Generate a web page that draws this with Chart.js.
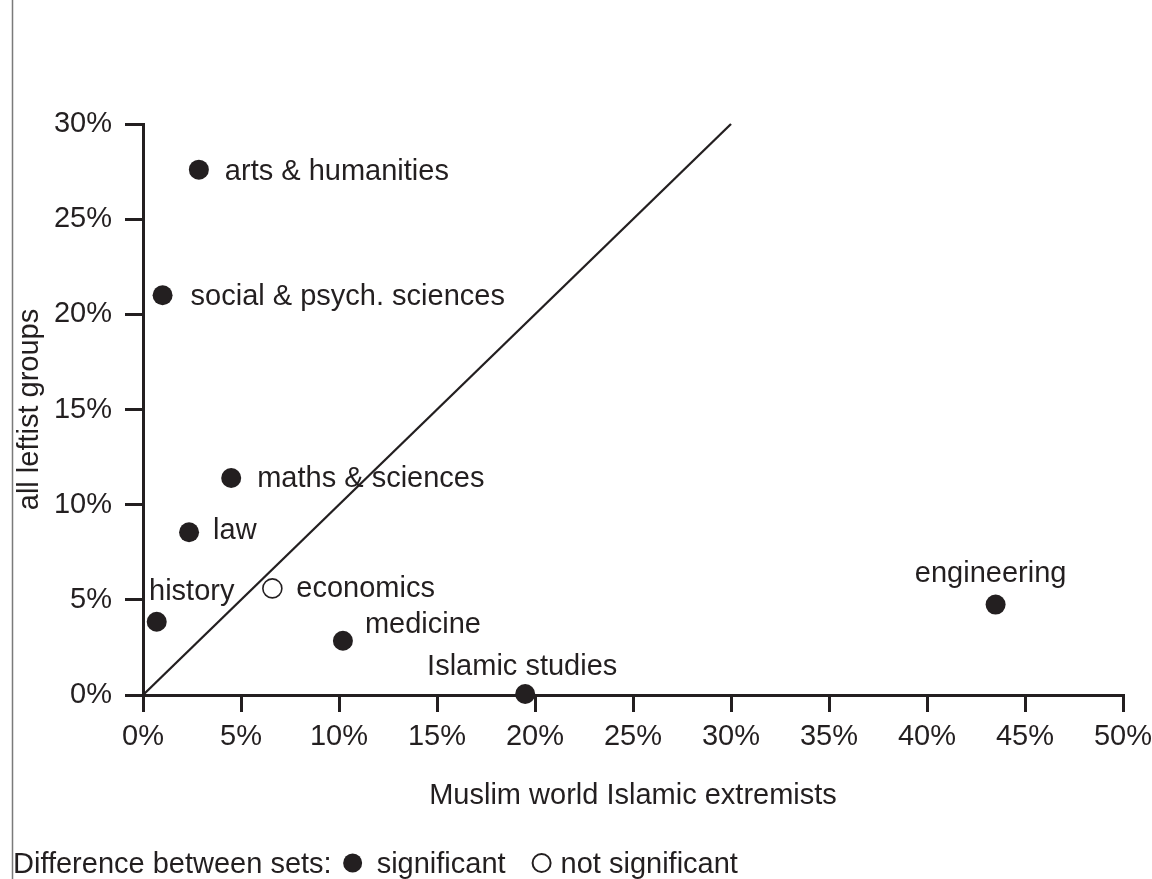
<!DOCTYPE html>
<html>
<head>
<meta charset="utf-8">
<script src="https://cdn.jsdelivr.net/npm/chart.js@4"></script>
<style>
  html, body { margin: 0; padding: 0; background: #fff; }
  #wrap { width: 1152px; height: 879px; }
</style>
</head>
<body>
<div id="wrap"><canvas id="chart" width="1152" height="879"></canvas></div>
<script>
// data (percent)
const subjects = ['arts & humanities', 'social & psych. sciences', 'maths & sciences', 'law', 'history',
                  'economics', 'medicine', 'Islamic studies', 'engineering'];
const islamistShare = [2.85, 1.0, 4.5, 2.35, 0.7, 6.6, 10.2, 19.5, 43.5];
const leftistShare = [27.6, 21.0, 11.4, 8.55, 3.85, 5.6, 2.85, 0.05, 4.75];
const significant = [true, true, true, true, true, false, true, true, true];
const diagonal = [0, 30];
const xTicks = [0, 5, 10, 15, 20, 25, 30, 35, 40, 45, 50];
const yTicks = [0, 5, 10, 15, 20, 25, 30];

const ink = '#231f20';
const fontFamily = '"Liberation Sans", Arial, Helvetica, sans-serif';
const fontSize = 29;

// where each name sits relative to its dot
const labelPlacement = {
    'arts & humanities':        { dx: 26, dy: 2,   align: 'left' },
    'social & psych. sciences': { dx: 28, dy: 2,   align: 'left' },
    'maths & sciences':         { dx: 26, dy: 1,   align: 'left' },
    'law':                      { dx: 24, dy: -1,  align: 'left' },
    'history':                  { dx: 35, dy: -30, align: 'center' },
    'economics':                { dx: 24, dy: 1,   align: 'left' },
    'medicine':                 { dx: 22, dy: -16, align: 'left' },
    'Islamic studies':          { dx: -3, dy: -27, align: 'center' },
    'engineering':              { dx: -5, dy: -31, align: 'center' }
};

function pick(flag) {
    const pts = [], names = [];
    subjects.forEach((s, i) => {
        if (significant[i] === flag) {
            pts.push({ x: islamistShare[i], y: leftistShare[i] });
            names.push(s);
        }
    });
    return { pts, names };
}
const sig = pick(true);
const notSig = pick(false);

Chart.defaults.color = ink;
Chart.defaults.font.family = fontFamily;
Chart.defaults.font.size = fontSize;

const pointLabels = {
    id: 'pointLabels',
    afterDatasetsDraw(chart) {
        const ctx = chart.ctx;
        ctx.save();
        ctx.font = fontSize + 'px ' + fontFamily;
        ctx.fillStyle = ink;
        ctx.textBaseline = 'middle';
        chart.data.datasets.forEach((ds, di) => {
            if (!ds.names) return;
            chart.getDatasetMeta(di).data.forEach((pt, i) => {
                const p = labelPlacement[ds.names[i]];
                ctx.textAlign = p.align;
                ctx.fillText(ds.names[i], pt.x + p.dx, pt.y + p.dy);
            });
        });
        ctx.restore();
    }
};

// page border on the left and the key at the bottom
const keyAndFrame = {
    id: 'keyAndFrame',
    afterDraw(chart) {
        const ctx = chart.ctx;
        ctx.save();
        ctx.strokeStyle = '#7a7a7a';
        ctx.lineWidth = 1.5;
        ctx.beginPath();
        ctx.moveTo(12.5, 0);
        ctx.lineTo(12.5, 879);
        ctx.stroke();

        ctx.font = fontSize + 'px ' + fontFamily;
        ctx.fillStyle = ink;
        ctx.textBaseline = 'alphabetic';
        ctx.textAlign = 'left';
        const base = 873, cy = 863;
        let x = 13;
        const lead = 'Difference between sets:';
        ctx.fillText(lead, x, base);
        x += ctx.measureText(lead).width + 21;
        ctx.beginPath();
        ctx.arc(x, cy, 9.5, 0, Math.PI * 2);
        ctx.fill();
        x += 24;
        ctx.fillText('significant', x, base);
        x += ctx.measureText('significant').width + 36;
        ctx.beginPath();
        ctx.arc(x, cy, 9, 0, Math.PI * 2);
        ctx.lineWidth = 2;
        ctx.strokeStyle = ink;
        ctx.stroke();
        x += 19;
        ctx.fillText('not significant', x, base);
        ctx.restore();
    }
};

new Chart(document.getElementById('chart'), {
    type: 'scatter',
    data: {
        datasets: [
            {
                type: 'line',
                data: diagonal.map(v => ({ x: v, y: v })),
                borderColor: ink,
                borderWidth: 2.3,
                pointRadius: 0,
                clip: false
            },
            {
                label: 'significant',
                names: sig.names,
                data: sig.pts,
                backgroundColor: ink,
                borderColor: ink,
                borderWidth: 0,
                pointRadius: 10,
                clip: false
            },
            {
                label: 'not significant',
                names: notSig.names,
                data: notSig.pts,
                backgroundColor: '#ffffff',
                borderColor: ink,
                borderWidth: 1.6,
                pointRadius: 9.5,
                clip: false
            }
        ]
    },
    options: {
        responsive: false,
        animation: false,
        layout: { padding: { left: 13, top: 124, right: 29, bottom: 66 } },
        plugins: {
            legend: { display: false },
            tooltip: { enabled: false }
        },
        scales: {
            x: {
                type: 'linear',
                min: 0,
                max: 50,
                afterBuildTicks: s => { s.ticks = xTicks.map(v => ({ value: v })); },
                afterFit: s => { s.height = 118; s.paddingLeft = 0; s.paddingRight = 0; },
                border: { color: ink, width: 3 },
                grid: { drawOnChartArea: false, color: ink, lineWidth: 3, tickLength: 17, tickColor: ink },
                ticks: { padding: 8, maxRotation: 0, autoSkip: false, callback: v => v + '%' },
                title: { display: true, text: 'Muslim world Islamic extremists', padding: { top: 0, bottom: 0 } }
            },
            y: {
                type: 'linear',
                min: 0,
                max: 30,
                afterBuildTicks: s => { s.ticks = yTicks.map(v => ({ value: v })); },
                afterFit: s => { s.width = 130; s.paddingTop = 0; s.paddingBottom = 0; },
                border: { color: ink, width: 3 },
                grid: { drawOnChartArea: false, color: ink, lineWidth: 3, tickLength: 18, tickColor: ink },
                ticks: { padding: 13, autoSkip: false, callback: v => v + '%' },
                title: { display: true, text: 'all leftist groups', padding: { top: 0, bottom: 0 } }
            }
        }
    },
    plugins: [pointLabels, keyAndFrame]
});
</script>
</body>
</html>
